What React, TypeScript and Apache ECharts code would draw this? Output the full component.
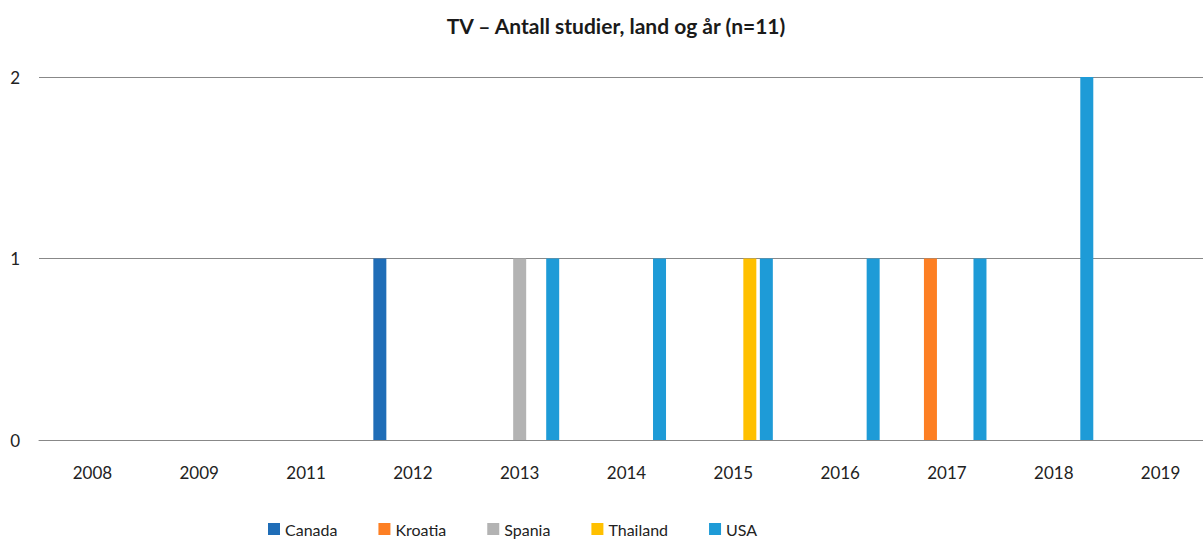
import React, { useEffect, useRef } from "react";
import * as echarts from "echarts";

const years = ["2008", "2009", "2011", "2012", "2013", "2014", "2015", "2016", "2017", "2018", "2019"];
const canada = [0, 0, 0, 1, 0, 0, 0, 0, 0, 0, 0];
const kroatia = [0, 0, 0, 0, 0, 0, 0, 0, 1, 0, 0];
const spania = [0, 0, 0, 0, 1, 0, 0, 0, 0, 0, 0];
const thailand = [0, 0, 0, 0, 0, 0, 1, 0, 0, 0, 0];
const usa = [0, 0, 0, 0, 1, 1, 1, 1, 1, 2, 0];
const seriesNames = ["Canada", "Kroatia", "Spania", "Thailand", "USA"];
const seriesColors = ["#1F6DB7", "#FD7F23", "#B3B3B3", "#FFC000", "#1E9BD7"];

export default function App() {
  const ref = useRef<HTMLDivElement>(null);
  useEffect(() => {
    document.body.style.margin = "0";
    const chart = echarts.init(ref.current!, undefined, { renderer: "svg" });
    const data = [canada, kroatia, spania, thailand, usa];
    const font = "Lato, 'Open Sans', sans-serif";
    chart.setOption({
      animation: false,
      textStyle: { fontFamily: font },
      title: {
        text: "TV – Antall studier, land og år (n=11)",
        left: 611,
        textAlign: "center",
        top: 10,
        textStyle: { fontFamily: font, fontSize: 21, fontWeight: "bold", color: "#1a1a1a" },
      },
      legend: {
        left: 268,
        top: 521,
        padding: 0,
        itemWidth: 12,
        itemHeight: 12,
        itemGap: 41,
        icon: "rect",
        textStyle: { fontFamily: font, fontSize: 16, color: "#222" },
        data: seriesNames,
      },
      grid: { left: 39, top: 77, right: 0, bottom: 99, containLabel: false },
      xAxis: {
        type: "category",
        data: years,
        axisLine: { show: true, lineStyle: { color: "#888", width: 1 } },
        axisTick: { show: false },
        axisLabel: { color: "#222", fontSize: 17, margin: 24, fontFamily: font },
      },
      yAxis: {
        type: "value",
        min: 0,
        max: 2,
        interval: 1,
        axisLine: { show: false },
        axisTick: { show: false },
        splitLine: { lineStyle: { color: "#888", width: 1 } },
        axisLabel: { color: "#222", fontSize: 17, margin: 19, fontFamily: font },
      },
      series: seriesNames.map((name, i) => ({
        name,
        type: "bar",
        data: data[i],
        barWidth: 13,
        barGap: "27%",
        itemStyle: { color: seriesColors[i] },
      })),
    });
    return () => chart.dispose();
  }, []);
  return (
    <div style={{ width: 1203, height: 539, overflow: "hidden", position: "relative" }}>
      <div ref={ref} style={{ width: 1214, height: 539, position: "absolute", left: 0, top: 0 }} />
    </div>
  );
}
